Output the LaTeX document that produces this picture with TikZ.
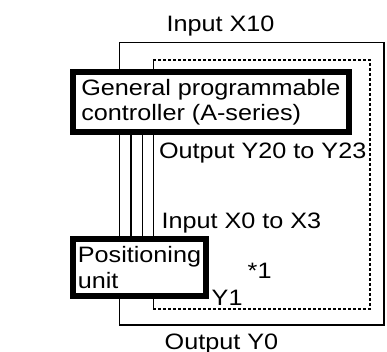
\documentclass[tikz,border=0pt]{standalone}
\usepackage{fontspec}
\setmainfont[FakeStretch=1.13]{Liberation Sans}
\usepackage{tikz}
\usetikzlibrary{positioning}

\begin{document}
\begin{tikzpicture}[x=1pt, y=-1pt,
    every node/.style={font=\fontsize{22.3pt}{25.7pt}\selectfont},
    wire/.style={line width=1.1pt},
    dots/.style={line width=1.1pt, dash pattern=on 2.5pt off 2.5pt},
    unitbox/.style={draw, line width=5.8pt, fill=white, align=left, inner sep=0pt, anchor=north west},
    lbl/.style={anchor=base west, inner sep=0pt}]
    \useasboundingbox (0,0) rectangle (387,352);
    % frame and dotted loop
    \coordinate (outer nw) at (119.5,42.7);
    \coordinate (outer se) at (384,325);
    \coordinate (dot nw) at (153.3,60);
    \coordinate (dot se) at (370,309);
    \draw[wire] (outer nw) rectangle (outer se);
    \draw[wire] (dot nw) -- (dot nw |- dot se);
    \draw[dots] (dot nw) -- (dot nw -| dot se) -- (dot se) -- (dot nw |- dot se);
    % units
    \node[unitbox, minimum width=275.7pt, minimum height=60.3pt] (plc) at (70.1,69.1) {General programmable\\controller (A-series)};
    \node[unitbox, minimum width=133pt, minimum height=57pt] (pos) at (70.1,236.1) {Positioning\\unit};
    \foreach \x in {119.5, 131, 142.3, 153.3} {
        \draw[wire] (\x,0 |- plc.south) -- (\x,0 |- pos.north);
    }
    % labels
    \node[lbl] (in10) at (166.3,31.7) {Input X10};
    \node[lbl] (out2023) at (158.8,158.3) {Output Y20 to Y23};
    \node[lbl] (in03) at (161.3,228.3) {Input X0 to X3};
    \node[lbl] (note) at (247.5,278.3) {*1};
    \node[lbl] (y1) at (211.5,305.5) {Y1};
    \node[lbl] (out0) at (164.5,349) {Output Y0};
\end{tikzpicture}
\end{document}
